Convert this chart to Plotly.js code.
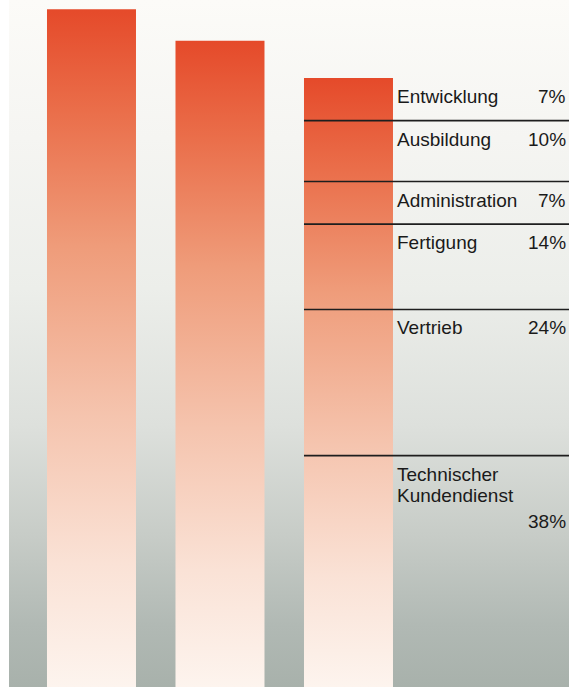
<!DOCTYPE html>
<html>
<head>
<meta charset="utf-8">
<script src="https://cdn.plot.ly/plotly-3.0.1.min.js"></script>
<style>
  html, body { margin: 0; padding: 0; background: #ffffff; }
  #wrap { position: relative; width: 569px; height: 689px; overflow: hidden; }
  #bg { position: absolute; left: 9px; top: 0; width: 560px; height: 687px;
        background: linear-gradient(to bottom, #fcfbf8 0%, #f5f5f2 20%, #eceeea 42%, #dde0dc 62%, #c7ccc7 78%, #b1b9b4 91%, #a8b1ab 100%); }
  #chart { position: absolute; left: 0; top: 0; width: 569px; height: 689px; }
</style>
</head>
<body>
<div id="wrap"><div id="bg"></div><div id="chart"></div></div>
<script>
// Three bars (total sizes, third = 100 %)
const barValues = [111.3, 106.1, 100];
// Breakdown of the third bar, top to bottom
const segLabels = ['Entwicklung', 'Ausbildung', 'Administration', 'Fertigung', 'Vertrieb', 'Technischer<br>Kundendienst'];
const segShares = [7, 10, 7, 14, 24, 38];

const barWidth = 0.6926;
const half = barWidth / 2;
const gradScale = [[0, '#fdf4ee'], [0.18, '#fae2d6'], [0.4, '#f5c4ae'], [0.65, '#ef9c7a'], [0.85, '#ea6e4a'], [1, '#e54a2a']];
const fontFam = '"Liberation Sans", Arial, Helvetica, sans-serif';
const fs = 19;

const traces = barValues.map((v, i) => ({
  type: 'scatter',
  x: [i - half, i + half, i + half, i - half, i - half],
  y: [0, 0, v, v, 0],
  mode: 'lines',
  line: { width: 0 },
  fill: 'toself',
  fillgradient: { type: 'vertical', colorscale: gradScale, start: 0, stop: v },
  hoverinfo: 'skip',
  showlegend: false
}));

const shapes = [];
const annotations = [];
const bar3 = barValues[2];
const sep = 2;
let cum = 0;
const lineH = 21;
segLabels.forEach((lab, k) => {
  const top = bar3 - cum;
  if (k > 0) {
    shapes.push({
      type: 'line', xref: 'x', yref: 'y',
      x0: sep - half, x1: 4, y0: top, y1: top,
      line: { color: '#1e1e1e', width: 1.6 }
    });
  }
  const lines = lab.split('<br>');
  lines.forEach((ln, j) => {
    annotations.push({
      xref: 'x', yref: 'y', x: sep + half, y: top,
      xanchor: 'left', yanchor: 'top', align: 'left',
      xshift: 2, yshift: -6 - j * lineH,
      text: ln, showarrow: false,
      font: { family: fontFam, size: fs, color: '#1a1a1a' }
    });
  });
  annotations.push({
    xref: 'paper', yref: 'y', x: 1, y: top,
    xanchor: 'right', yanchor: 'top', align: 'right',
    xshift: -1, yshift: -6 - (lines.length > 1 ? lines.length * lineH + 5 : 0),
    text: segShares[k] + '%', showarrow: false,
    font: { family: fontFam, size: fs, color: '#1a1a1a' }
  });
  cum += segShares[k];
});

const layout = {
  width: 569, height: 689,
  margin: { l: 0, r: 0, t: 0, b: 2, pad: 0 },
  paper_bgcolor: 'rgba(0,0,0,0)',
  plot_bgcolor: 'rgba(0,0,0,0)',
  xaxis: { range: [-0.712, 3.716], visible: false, fixedrange: true },
  yaxis: { range: [0, 112.81], visible: false, fixedrange: true },
  shapes: shapes,
  annotations: annotations,
  showlegend: false
};

Plotly.newPlot('chart', traces, layout, { staticPlot: true, displayModeBar: false });
</script>
</body>
</html>
